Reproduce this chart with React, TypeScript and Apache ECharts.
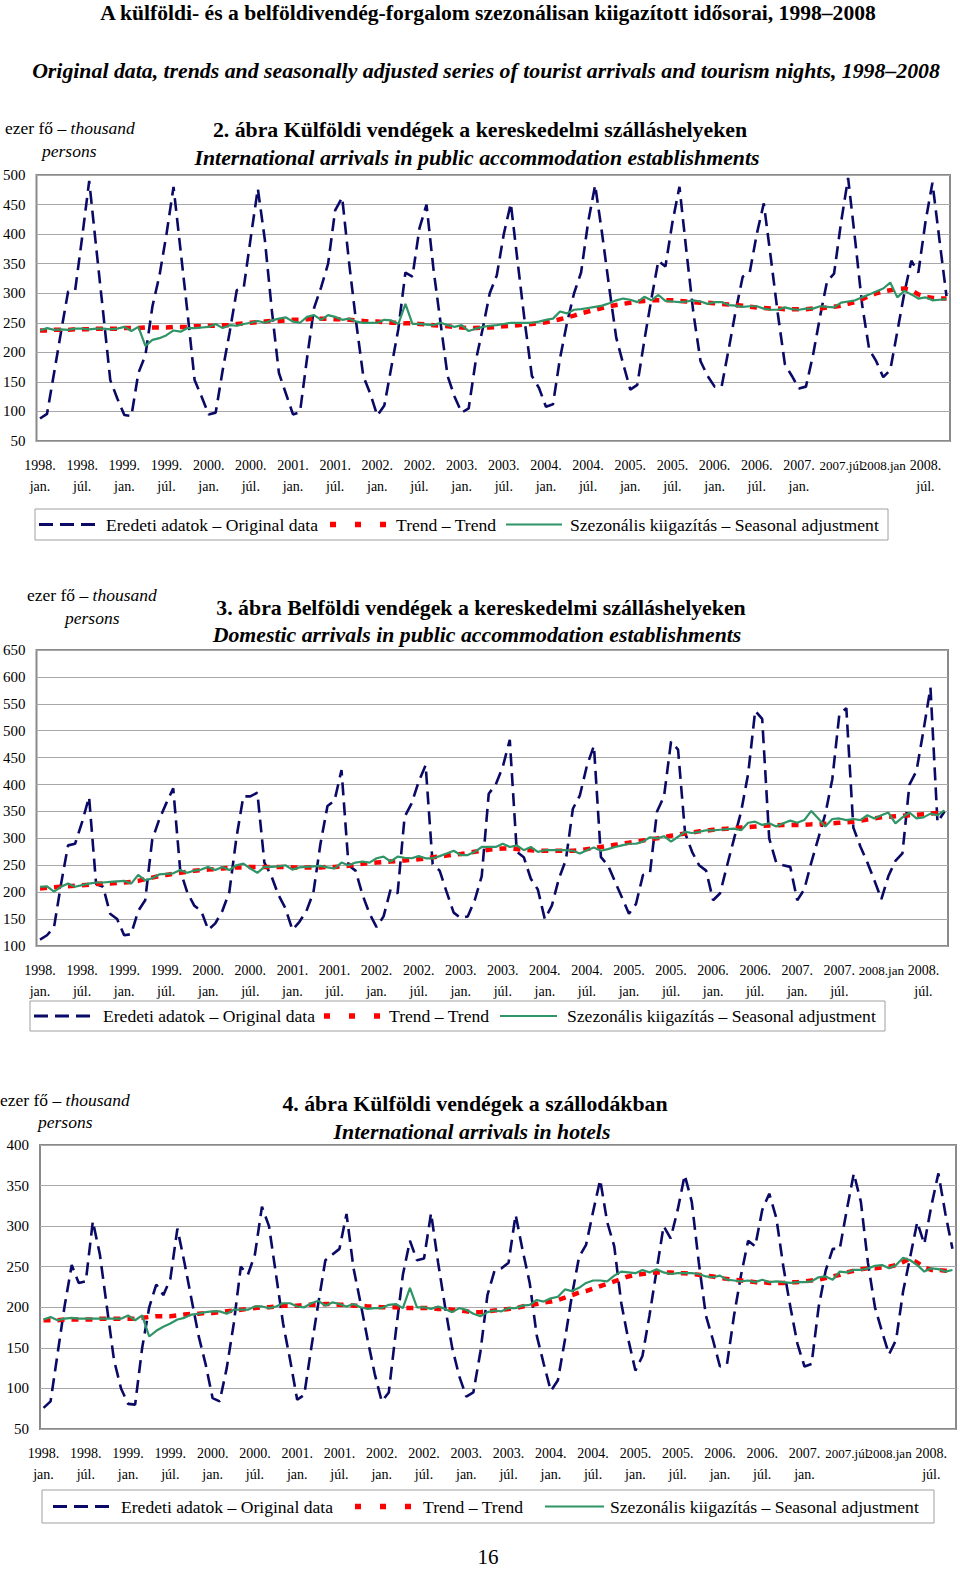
import React, { useEffect, useRef } from 'react';
import * as echarts from 'echarts';

const FONT = "'Liberation Serif', 'Times New Roman', serif";

// monthly categories Jan 1998 .. Oct 2008
const YEARS = [1998, 1999, 2000, 2001, 2002, 2003, 2004, 2005, 2006, 2007, 2008];
const MONTHS = ['01', '02', '03', '04', '05', '06', '07', '08', '09', '10', '11', '12'];
const LAST_MONTH_2008 = 10;

const ticksIntl = [
  '1998.\njan.', '1998.\njúl.', '1999.\njan.', '1999.\njúl.', '2000.\njan.', '2000.\njúl.',
  '2001.\njan.', '2001.\njúl.', '2002.\njan.', '2002.\njúl.', '2003.\njan.', '2003.\njúl.',
  '2004.\njan.', '2004.\njúl.', '2005.\njan.', '2005.\njúl.', '2006.\njan.', '2006.\njúl.',
  '2007.\njan.', '2007.júl', '2008.jan', '2008.\njúl.',
];
const ticksDom = [
  '1998.\njan.', '1998.\njúl.', '1999.\njan.', '1999.\njúl.', '2000.\njan.', '2000.\njúl.',
  '2001.\njan.', '2001.\njúl.', '2002.\njan.', '2002.\njúl.', '2003.\njan.', '2003.\njúl.',
  '2004.\njan.', '2004.\njúl.', '2005.\njan.', '2005.\njúl.', '2006.\njan.', '2006.\njúl.',
  '2007.\njan.', '2007.\njúl.', '2008.jan', '2008.\njúl.',
];

// 2. ábra – International arrivals in public accommodation establishments
const intlOriginal = [
  88, 96, 165, 235, 303, 305, 395, 490, 377, 266, 153, 122,
  94, 92, 165, 195, 278, 330, 400, 480, 373, 266, 153, 125,
  95, 98, 170, 235, 305, 310, 395, 477, 390, 270, 165, 130,
  95, 99, 190, 275, 310, 350, 440, 462, 350, 250, 160, 130,
  93, 110, 175, 240, 335, 328, 410, 450, 340, 250, 160, 125,
  98, 105, 185, 240, 300, 330, 400, 452, 350, 250, 160, 140,
  108, 112, 190, 250, 300, 335, 420, 483, 400, 310, 225, 180,
  137, 145, 220, 290, 355, 345, 420, 480, 370, 265, 185, 160,
  142, 142, 205, 270, 328, 335, 400, 452, 360, 265, 180, 160,
  139, 142, 195, 260, 320, 333, 420, 495, 390, 280, 205, 185,
  158, 170, 235, 300, 355, 335, 420, 487, 390, 295,
];
const intlTrend = [
  237, 237, 238, 238, 238, 239, 239, 239, 240, 240, 240, 240,
  241, 241, 241, 242, 242, 242, 242, 243, 243, 243, 244, 244,
  245, 245, 246, 246, 248, 249, 250, 251, 252, 253, 253, 254,
  255, 255, 256, 257, 257, 257, 256, 256, 255, 254, 253, 252,
  252, 251, 250, 250, 249, 249, 248, 247, 246, 245, 244, 243,
  242, 241, 241, 242, 242, 243, 244, 245, 246, 247, 248, 249,
  251, 253, 256, 259, 262, 266, 269, 272, 275, 278, 280, 282,
  284, 286, 287, 288, 288, 288, 288, 287, 286, 285, 284, 284,
  283, 282, 281, 280, 279, 277, 276, 275, 274, 274, 273, 273,
  273, 273, 274, 274, 276, 277, 279, 282, 285, 290, 295, 300,
  303, 305, 307, 308, 305, 298, 294, 292, 291, 291,
];
const intlSA = [
  237, 241, 238, 239, 238, 240, 240, 239, 240, 240, 239, 240,
  243, 236, 243, 211, 221, 224, 229, 237, 235, 241, 241, 242,
  243, 248, 241, 246, 245, 248, 250, 253, 250, 254, 257, 259,
  252, 250, 260, 263, 255, 263, 260, 255, 257, 252, 250, 250,
  250, 255, 254, 248, 282, 248, 248, 247, 246, 250, 246, 243,
  246, 236, 240, 243, 245, 246, 248, 250, 250, 250, 250, 252,
  255, 257, 269, 266, 272, 273, 275, 277, 279, 283, 288, 291,
  289, 285, 294, 288, 297, 287, 286, 285, 286, 288, 286, 282,
  285, 285, 280, 279, 277, 278, 278, 274, 272, 272, 276, 273,
  272, 274, 274, 278, 277, 276, 284, 286, 288, 293, 298, 303,
  308, 318, 293, 304, 298, 291, 293, 288, 289, 290,
];

// 3. ábra – Domestic arrivals in public accommodation establishments
const domOriginal = [
  112, 120, 135, 215, 287, 290, 330, 377, 215, 210, 160, 150,
  120, 122, 165, 185, 297, 335, 365, 393, 240, 200, 175, 165,
  130, 142, 165, 200, 300, 378, 378, 385, 255, 230, 195, 170,
  130, 145, 165, 200, 290, 360, 370, 427, 250, 240, 195, 160,
  135, 155, 205, 198, 340, 365, 405, 436, 252, 240, 200, 162,
  152, 155, 185, 230, 383, 400, 433, 483, 275, 265, 225, 205,
  150, 175, 225, 260, 355, 380, 435, 472, 265, 250, 220, 190,
  160, 178, 232, 236, 350, 378, 480, 465, 310, 275, 250, 240,
  185, 198, 250, 300, 350, 420, 537, 522, 300, 255, 250, 247,
  185, 205, 255, 300, 345, 410, 530, 542, 320, 285, 255, 222,
  187, 230, 258, 272, 400, 425, 500, 580, 330, 350,
];
const domTrend = [
  207, 208, 209, 210, 211, 212, 213, 214, 215, 216, 216, 217,
  218, 219, 221, 224, 227, 230, 232, 234, 236, 238, 240, 241,
  242, 243, 244, 245, 246, 246, 247, 247, 247, 247, 247, 247,
  246, 246, 246, 246, 246, 247, 247, 248, 249, 251, 253, 254,
  255, 256, 257, 258, 259, 260, 261, 263, 265, 266, 268, 270,
  271, 273, 275, 277, 279, 280, 281, 281, 280, 279, 278, 277,
  277, 277, 277, 277, 277, 278, 280, 282, 284, 286, 288, 290,
  292, 294, 296, 298, 300, 302, 305, 307, 309, 311, 313, 314,
  316, 317, 318, 319, 320, 321, 322, 323, 324, 324, 325, 325,
  325, 325, 326, 326, 327, 328, 329, 330, 331, 333, 335, 337,
  339, 340, 341, 342, 343, 344, 345, 346, 347, 348,
];
const domSA = [
  210, 211, 201, 210, 216, 210, 213, 216, 218, 218, 219, 220,
  221, 216, 232, 222, 226, 233, 234, 235, 241, 236, 240, 242,
  247, 241, 247, 241, 250, 253, 244, 236, 247, 247, 248, 250,
  242, 246, 247, 248, 249, 246, 244, 255, 250, 255, 257, 255,
  263, 266, 257, 266, 264, 263, 267, 263, 263, 267, 272, 277,
  269, 269, 275, 284, 284, 284, 290, 284, 287, 278, 284, 275,
  278, 278, 278, 278, 277, 272, 278, 283, 277, 280, 284, 287,
  290, 290, 294, 302, 300, 304, 294, 303, 312, 310, 312, 315,
  315, 316, 317, 318, 315, 329, 331, 325, 328, 322, 328, 333,
  329, 334, 351, 337, 322, 336, 337, 334, 336, 334, 343, 337,
  343, 348, 328, 339, 348, 337, 339, 346, 343, 352,
];

// 4. ábra – International arrivals in hotels
const hotelOriginal = [
  76, 84, 143, 202, 252, 230, 232, 306, 265, 200, 135, 100,
  81, 80, 150, 200, 228, 215, 235, 297, 255, 210, 165, 130,
  88, 84, 125, 180, 250, 240, 265, 324, 300, 240, 180, 135,
  86, 92, 150, 205, 258, 265, 272, 315, 248, 205, 160, 118,
  84, 95, 170, 240, 282, 258, 260, 316, 255, 200, 150, 115,
  90, 95, 145, 215, 245, 248, 255, 314, 270, 230, 165, 130,
  97, 110, 160, 215, 262, 277, 318, 357, 305, 275, 205, 160,
  122, 140, 190, 245, 300, 285, 320, 363, 330, 255, 190, 160,
  127, 130, 190, 240, 282, 275, 320, 340, 310, 250, 200, 155,
  127, 130, 200, 245, 272, 272, 320, 365, 330, 255, 200, 170,
  142, 160, 220, 262, 305, 278, 325, 365, 315, 272,
];
const hotelTrend = [
  184, 184, 184, 185, 185, 185, 185, 185, 186, 186, 186, 186,
  186, 186, 187, 188, 189, 189, 189, 190, 191, 192, 192, 193,
  193, 194, 195, 196, 197, 198, 199, 200, 200, 201, 202, 202,
  202, 203, 203, 203, 204, 204, 203, 203, 202, 202, 201, 201,
  200, 200, 200, 199, 199, 199, 199, 199, 198, 198, 197, 196,
  195, 194, 194, 195, 196, 197, 198, 199, 201, 203, 204, 206,
  207, 209, 212, 215, 218, 220, 223, 226, 229, 232, 235, 238,
  240, 241, 242, 243, 243, 243, 242, 242, 241, 240, 239, 238,
  236, 235, 234, 233, 232, 231, 231, 230, 230, 230, 231, 231,
  232, 233, 234, 236, 238, 240, 243, 245, 247, 248, 248, 249,
  250, 252, 256, 260, 255, 249, 246, 246, 245, 245,
];
const hotelSA = [
  185, 188, 184, 186, 187, 186, 186, 186, 186, 186, 186, 186,
  190, 184, 190, 164, 171, 176, 180, 185, 187, 191, 192, 194,
  195, 195, 192, 197, 197, 197, 201, 201, 199, 201, 205, 205,
  201, 200, 205, 208, 202, 206, 204, 201, 204, 200, 198, 199,
  199, 203, 204, 199, 224, 200, 200, 198, 201, 198, 194, 199,
  197, 192, 189, 194, 196, 195, 199, 199, 202, 203, 209, 207,
  211, 213, 222, 220, 224, 230, 233, 233, 232, 239, 244, 243,
  242, 246, 243, 247, 243, 241, 242, 242, 242, 241, 238, 237,
  239, 234, 233, 232, 233, 231, 234, 231, 232, 231, 230, 231,
  231, 232, 237, 238, 234, 244, 243, 246, 246, 248, 251, 252,
  248, 252, 261, 258, 252, 244, 248, 247, 244, 246,
];

const NAME_ORIG = 'Eredeti adatok – Original data';
const NAME_TREND = 'Trend – Trend';
const NAME_SA = 'Szezonális kiigazítás – Seasonal adjustment';

const C_ORIG = '#0a0a66';
const C_TREND = '#ff0000';
const C_SA = '#2f9466';

function buildCategories(): string[] {
  const out: string[] = [];
  for (const y of YEARS) {
    for (const m of MONTHS) {
      if (y === 2008 && Number(m) > LAST_MONTH_2008) continue;
      out.push(`${y}-${m}`);
    }
  }
  return out;
}

export default function App() {
  const ref = useRef<HTMLDivElement>(null);

  useEffect(() => {
    if (!ref.current) return;
    const chart = echarts.init(ref.current, undefined, { renderer: 'svg' });
    const cats = buildCategories();

    const grids = [
      { left: 34, top: 175, width: 916, height: 266 },
      { left: 36, top: 650, width: 912, height: 296 },
      { left: 40, top: 1145, width: 916, height: 284 },
    ];
    const yRanges = [
      [50, 500],
      [100, 650],
      [50, 400],
    ];
    const ticks = [ticksIntl, ticksDom, ticksIntl];

    const xAxes = grids.map((_, gi) => ({
      type: 'category',
      gridIndex: gi,
      data: cats,
      boundaryGap: true,
      axisLine: { show: false },
      axisTick: { show: false },
      axisLabel: {
        interval: 5,
        formatter: (_v: string, idx: number) => {
          const t = ticks[gi][Math.round(idx / 6)] ?? '';
          return t.indexOf('\n') < 0 ? `{s|${t}}` : t;
        },
        rich: { s: { fontFamily: FONT, fontSize: 13, color: '#000' } },
        fontFamily: FONT,
        fontSize: 14,
        lineHeight: 21,
        color: '#000',
        margin: 14,
      },
      splitLine: { show: false },
    }));

    const yAxes = grids.map((_, gi) => ({
      type: 'value',
      gridIndex: gi,
      min: yRanges[gi][0],
      max: yRanges[gi][1],
      interval: 50,
      axisLine: { show: false },
      axisTick: { show: false },
      axisLabel: {
        fontFamily: FONT,
        fontSize: 15,
        color: '#000',
        margin: 11,
      },
      splitLine: { show: true, lineStyle: { color: '#a8a8a8', width: 1 } },
    }));

    const sets = [
      [intlOriginal, intlTrend, intlSA],
      [domOriginal, domTrend, domSA],
      [hotelOriginal, hotelTrend, hotelSA],
    ];
    const series: any[] = [];
    sets.forEach((s, gi) => {
      series.push({
        type: 'line', name: NAME_ORIG, data: s[0], xAxisIndex: gi, yAxisIndex: gi,
        symbol: 'none', z: 2, color: C_ORIG,
        lineStyle: { color: C_ORIG, width: 2.6, type: [13, 7] },
      });
      series.push({
        type: 'line', name: NAME_TREND, data: s[1], xAxisIndex: gi, yAxisIndex: gi,
        symbol: 'none', z: 3, color: C_TREND,
        lineStyle: { color: C_TREND, width: 4.5, type: [7, 7] },
      });
      series.push({
        type: 'line', name: NAME_SA, data: s[2], xAxisIndex: gi, yAxisIndex: gi,
        symbol: 'none', z: 4, color: C_SA,
        lineStyle: { color: C_SA, width: 2.2, type: 'solid' },
      });
    });

    const txt = (x: number, y: number, text: string, size: number, weight: string, fontStyle: string, align = 'center') => ({
      type: 'text', x, y, silent: true,
      style: {
        text, fill: '#000', textAlign: align, textVerticalAlign: 'middle',
        font: `${fontStyle} ${weight} ${size}px ${FONT}`,
      },
    });
    const unit = (x: number, y: number) => ({
      type: 'text', x, y, silent: true,
      style: {
        text: '{n|ezer fő – }{i|thousand}',
        textAlign: 'left', textVerticalAlign: 'middle',
        rich: {
          n: { fontFamily: FONT, fontSize: 17.5, fill: '#000' },
          i: { fontFamily: FONT, fontSize: 17.5, fontStyle: 'italic', fill: '#000' },
        },
      },
    });

    // legend boxes drawn as graphics (legend samples: dashed navy, red squares, green line)
    const legend = (bx: number, by: number, bw: number, bh: number, s: number[][], tx: number[]) => {
      const cy = by + bh / 2;
      return {
        type: 'group', silent: true,
        children: [
          { type: 'rect', shape: { x: bx, y: by, width: bw, height: bh }, style: { fill: '#fff', stroke: '#a0a0a0', lineWidth: 1 } },
          { type: 'line', shape: { x1: s[0][0], y1: cy, x2: s[0][1], y2: cy }, style: { stroke: C_ORIG, lineWidth: 2.8, lineDash: [14, 7] } },
          { type: 'line', shape: { x1: s[1][0], y1: cy, x2: s[1][1], y2: cy }, style: { stroke: C_TREND, lineWidth: 5.5, lineDash: [6, 19] } },
          { type: 'line', shape: { x1: s[2][0], y1: cy, x2: s[2][1], y2: cy }, style: { stroke: C_SA, lineWidth: 2.2 } },
          { type: 'text', x: tx[0], y: cy, style: { text: NAME_ORIG, fill: '#000', textVerticalAlign: 'middle', font: `17.6px ${FONT}` } },
          { type: 'text', x: tx[1], y: cy, style: { text: NAME_TREND, fill: '#000', textVerticalAlign: 'middle', font: `17.6px ${FONT}` } },
          { type: 'text', x: tx[2], y: cy, style: { text: NAME_SA, fill: '#000', textVerticalAlign: 'middle', font: `17.6px ${FONT}` } },
        ],
      };
    };

    const graphic = [
      txt(488, 13, 'A külföldi- és a belföldivendég-forgalom szezonálisan kiigazított idősorai, 1998–2008', 21.6, 'bold', 'normal'),
      txt(486, 71, 'Original data, trends and seasonally adjusted series of tourist arrivals and tourism nights, 1998–2008', 21.8, 'bold', 'italic'),
      unit(5, 128),
      txt(42, 151, 'persons', 17.5, 'normal', 'italic', 'left'),
      txt(480, 130, '2. ábra Külföldi vendégek a kereskedelmi szálláshelyeken', 21.8, 'bold', 'normal'),
      txt(477, 158, 'International arrivals in public accommodation establishments', 21.8, 'bold', 'italic'),
      legend(35, 509, 853, 31, [[39, 98], [330, 390], [506, 562]], [106, 396, 570]),
      unit(27, 595),
      txt(65, 618, 'persons', 17.5, 'normal', 'italic', 'left'),
      txt(481, 608, '3. ábra Belföldi vendégek a kereskedelmi szálláshelyeken', 21.8, 'bold', 'normal'),
      txt(477, 635, 'Domestic arrivals in public accommodation establishments', 21.8, 'bold', 'italic'),
      legend(30, 1001, 855, 30, [[34, 96], [324, 384], [500, 557]], [103, 389, 567]),
      unit(0, 1100),
      txt(38, 1122, 'persons', 17.5, 'normal', 'italic', 'left'),
      txt(475, 1104, '4. ábra Külföldi vendégek a szállodákban', 21.8, 'bold', 'normal'),
      txt(472, 1132, 'International arrivals in hotels', 21.8, 'bold', 'italic'),
      legend(42, 1490, 892, 33, [[53, 114], [355, 415], [545, 604]], [121, 423, 610]),
      txt(488, 1557, '16', 21, 'normal', 'normal'),
    ];

    chart.setOption({
      animation: false,
      backgroundColor: '#fff',
      grid: grids.map((g) => ({ ...g, show: true, borderColor: '#8a8a8a', borderWidth: 2, backgroundColor: 'transparent', containLabel: false })),
      xAxis: xAxes,
      yAxis: yAxes,
      series,
      graphic,
    } as any);

    return () => chart.dispose();
  }, []);

  return (
    <div
      ref={ref}
      style={{ position: 'absolute', left: 0, top: 0, width: 960, height: 1570, background: '#fff' }}
    />
  );
}
